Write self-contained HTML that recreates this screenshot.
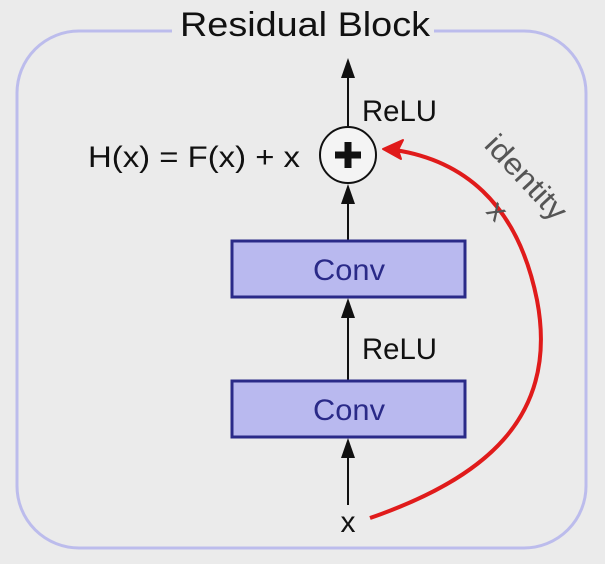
<!DOCTYPE html>
<html><head><style>
body{margin:0;background:#ebebeb;}
svg{display:block}
text{font-family:"Liberation Sans",sans-serif;}
</style></head><body>
<svg width="605" height="564" viewBox="0 0 605 564">
<rect x="0" y="0" width="605" height="564" fill="#ebebeb"/>
<rect x="17" y="31" width="569" height="517" rx="62" fill="none" stroke="#bcbcec" stroke-width="3"/>
<rect x="172" y="10" width="262" height="40" fill="#ebebeb"/>
<text x="305" y="36" font-size="34" text-anchor="middle" fill="#111" textLength="250" lengthAdjust="spacingAndGlyphs">Residual Block</text>
<g stroke="#111" stroke-width="2" fill="#111">
<line x1="348" y1="126" x2="348" y2="74"/><path d="M341,78 L348,58 L355,78Z" stroke="none"/>
<line x1="348" y1="240" x2="348" y2="200"/><path d="M341,204 L348,184 L355,204Z" stroke="none"/>
<line x1="348" y1="380" x2="348" y2="318"/><path d="M341,318 L348,298 L355,318Z" stroke="none"/>
<line x1="348" y1="505" x2="348" y2="458"/><path d="M341,458 L348,438 L355,458Z" stroke="none"/>
</g>
<circle cx="348" cy="155" r="28" fill="#f4f4f4" stroke="#111" stroke-width="2"/>
<path d="M335,155 H361 M348,142 V168" stroke="#111" stroke-width="7"/>
<rect x="232" y="241" width="233" height="56" fill="#b9b9ef" stroke="#2a2a88" stroke-width="3"/>
<rect x="232" y="381" width="233" height="56" fill="#b9b9ef" stroke="#2a2a88" stroke-width="3"/>
<text x="349" y="280" font-size="30" text-anchor="middle" fill="#2a2a88" textLength="72" lengthAdjust="spacingAndGlyphs">Conv</text>
<text x="349" y="420" font-size="30" text-anchor="middle" fill="#2a2a88" textLength="72" lengthAdjust="spacingAndGlyphs">Conv</text>
<text x="362" y="121" font-size="30" fill="#111" textLength="75" lengthAdjust="spacingAndGlyphs">ReLU</text>
<text x="362" y="359" font-size="30" fill="#111" textLength="75" lengthAdjust="spacingAndGlyphs">ReLU</text>
<text x="348" y="532" font-size="30" text-anchor="middle" fill="#111">x</text>
<text x="88" y="167" font-size="30" fill="#111" textLength="212" lengthAdjust="spacingAndGlyphs">H(x) = F(x) + x</text>
<path d="M370,518 C480,480 560,420 537,300 C517,200 460,160 395,150" fill="none" stroke="#e01b1b" stroke-width="4"/>
<path d="M383,149 L403,140 L398,150 L401,159Z" fill="#e01b1b" stroke="#e01b1b" stroke-width="2" stroke-linejoin="round"/>
<text transform="translate(483,146) rotate(47)" font-size="30" fill="#555" textLength="105" lengthAdjust="spacingAndGlyphs">identity</text>
<text transform="translate(485,212) rotate(47)" font-size="30" fill="#555">x</text>
</svg>
</body></html>
